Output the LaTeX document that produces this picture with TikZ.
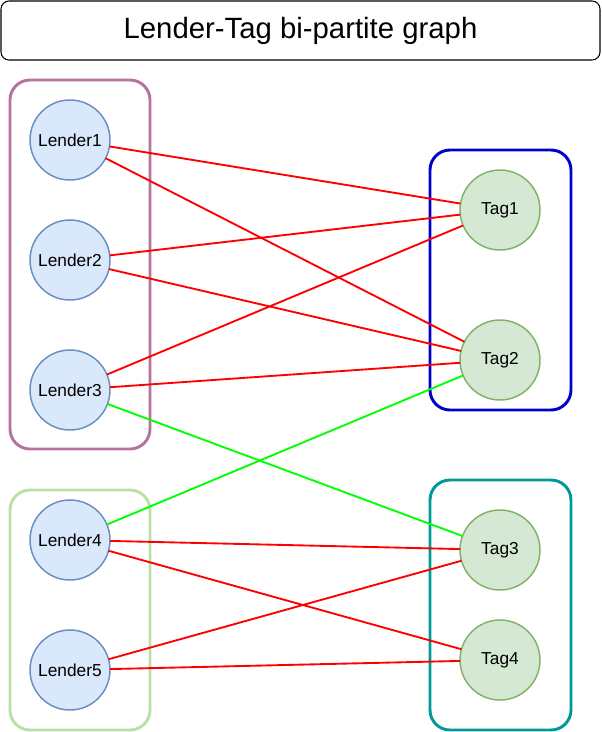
\documentclass[tikz,border=0pt]{standalone}
\usepackage{fontspec}
\setmainfont{Liberation Sans}
\usepackage{xcolor}
\usetikzlibrary{positioning}

\definecolor{lenderfill}{HTML}{DAE8FC}
\definecolor{lenderline}{HTML}{6C8EBF}
\definecolor{tagfill}{HTML}{D5E8D4}
\definecolor{tagline}{HTML}{82B366}
\definecolor{grpone}{HTML}{B5739D}
\definecolor{grptwo}{HTML}{B9E0A5}
\definecolor{grpthree}{HTML}{0000CC}
\definecolor{grpfour}{HTML}{009999}

\tikzset{
  lender/.style={circle, draw=lenderline, fill=lenderfill, line width=1.1pt,
    minimum size=60pt, inner sep=0pt, outer sep=0pt,
    font=\fontsize{13}{15}\selectfont},
  tag/.style={circle, draw=tagline, fill=tagfill, line width=1.1pt,
    minimum size=60pt, inner sep=0pt, outer sep=0pt,
    font=\fontsize{13}{15}\selectfont},
  grp/.style={rounded corners=15pt, line width=2.2pt},
  titlebox/.style={draw, rounded corners=6pt, line width=0.8pt,
    minimum width=449.25pt, minimum height=44.25pt,
    font=\fontsize{22}{26}\selectfont},
  redge/.style={draw=red, line width=1.4pt},
  gedge/.style={draw=green, line width=1.4pt},
}

\begin{document}
\begin{tikzpicture}[x=0.75pt, y=-0.75pt]
    \useasboundingbox (0,0) rectangle (602,732);

    \node[titlebox] (title) at (300.5,30.5) {Lender-Tag bi-partite graph};

    % group frames
    \draw[grp, grpone] (10,80) rectangle (150,449);
    \draw[grp, grptwo] (10,490) rectangle (150,730);
    \draw[grp, grpthree] (430,150) rectangle (571,410);
    \draw[grp, grpfour] (430,480) rectangle (571,730);

    % lenders
    \node[lender] (l1) at (70,140) {Lender1};
    \node[lender, below=30pt of l1] (l2) {Lender2};
    \node[lender, below=37.5pt of l2] (l3) {Lender3};
    \node[lender, below=52.5pt of l3] (l4) {Lender4};
    \node[lender, below=37.5pt of l4] (l5) {Lender5};

    % tags
    \node[tag] (t1) at (500,210) {Tag1};
    \node[tag, below=52.5pt of t1] (t2) {Tag2};
    \node[tag, below=82.5pt of t2] (t3) {Tag3};
    \node[tag, below=22.5pt of t3] (t4) {Tag4};

    \draw[redge] (l1) -- (t1);
    \draw[redge] (l1) -- (t2);
    \draw[redge] (l2) -- (t1);
    \draw[redge] (l2) -- (t2);
    \draw[redge] (l3) -- (t1);
    \draw[redge] (l3) -- (t2);
    \draw[gedge] (l3) -- (t3);
    \draw[gedge] (l4) -- (t2);
    \draw[redge] (l4) -- (t3);
    \draw[redge] (l4) -- (t4);
    \draw[redge] (l5) -- (t3);
    \draw[redge] (l5) -- (t4);
\end{tikzpicture}
\end{document}
